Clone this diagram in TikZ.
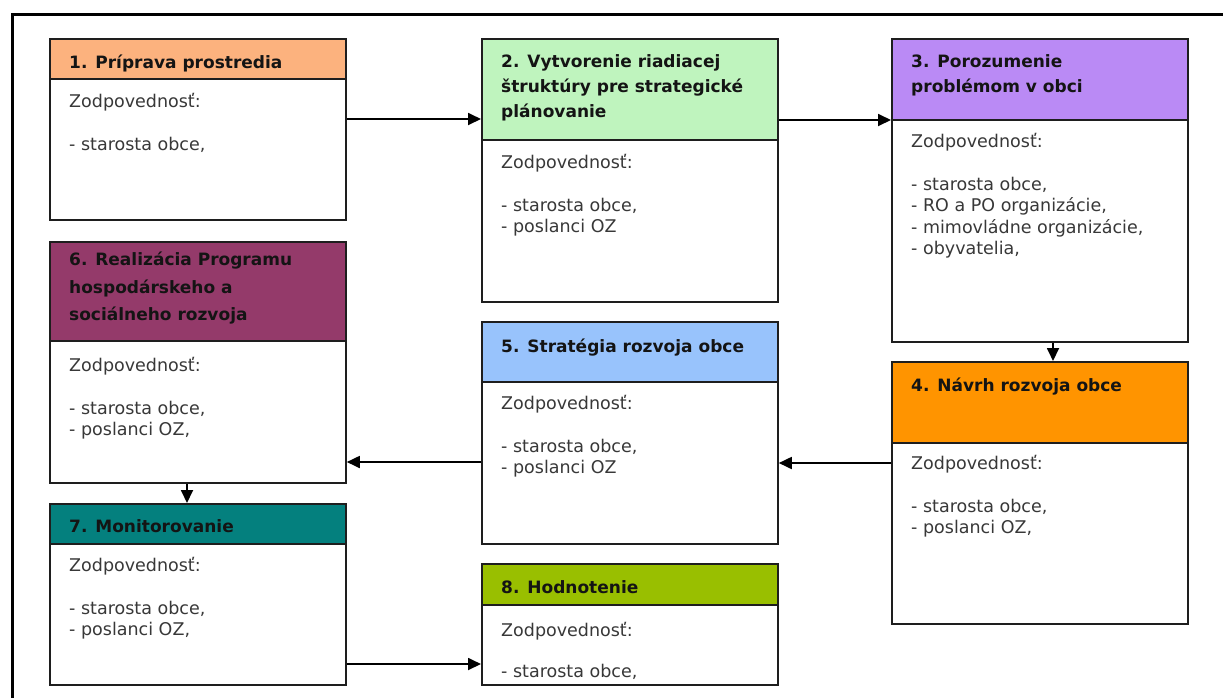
\documentclass[tikz,border=0pt]{standalone}
\usepackage{fontspec}
\setmainfont{DejaVu Sans}
\usetikzlibrary{arrows.meta}
\definecolor{c1}{RGB}{252,178,126}
\definecolor{c2}{RGB}{191,244,190}
\definecolor{c3}{RGB}{186,138,245}
\definecolor{c4}{RGB}{255,148,0}
\definecolor{c5}{RGB}{152,195,252}
\definecolor{c6}{RGB}{148,58,106}
\definecolor{c7}{RGB}{4,128,126}
\definecolor{c8}{RGB}{153,191,0}
\definecolor{bd}{RGB}{30,30,30}
\newcommand\myhfont{\fontsize{17}{25}\selectfont\bfseries}
\newcommand\myhfontb{\fontsize{17}{27.5}\selectfont\bfseries}
\newcommand\mybfont{\fontsize{17.5}{21.5}\selectfont}
\tikzset{
 box/.style={draw=bd, line width=1.8pt, fill=white, anchor=north west, inner sep=0pt, minimum width=296pt},
 hdr/.style={draw=bd, line width=1.8pt, anchor=north west, inner sep=0pt, minimum width=296pt},
 htxt/.style={anchor=north west, inner sep=0pt, align=left, text=black!92, font=\myhfont, execute at begin node={\rule{0pt}{15pt}}},
 btxt/.style={anchor=north west, inner sep=0pt, align=left, text=black!78, font=\mybfont, execute at begin node={\rule{0pt}{15pt}}},
 arr/.style={line width=1.8pt, draw=black, -{Triangle[length=13pt,width=12pt]}},
 frame/.style={line width=3pt, draw=black},
}
\begin{document}
\begin{tikzpicture}[x=1pt,y=-1pt]
\useasboundingbox (0,0) rectangle (1223,697);
\clip (0,0) rectangle (1223,697);
\fill[white] (0,0) rectangle (1223,697);
\draw[frame] (12,720) -- (12,14) -- (1240,14);

% box 1
\node[box, minimum height=181pt] (b1) at (49,38) {};
\node[hdr, fill=c1, minimum height=40pt] (h1) at (b1.north west) {};
\node[htxt] (t1) at ([shift={(20pt,-15pt)}]h1.north west) {1. Príprava prostredia};
\node[btxt] (r1) at ([shift={(20pt,-13pt)}]h1.south west) {Zodpovednosť:\\[21.5pt]- starosta obce,};

% box 2
\node[box, minimum height=263pt] (b2) at (481,38) {};
\node[hdr, fill=c2, minimum height=101pt] (h2) at (b2.north west) {};
\node[htxt] (t2) at ([shift={(20pt,-16pt)}]h2.north west) {2. Vytvorenie riadiacej\\štruktúry pre strategické\\plánovanie};
\node[btxt] (r2) at ([shift={(20pt,-13pt)}]h2.south west) {Zodpovednosť:\\[21.5pt]- starosta obce,\\- poslanci OZ};

% box 3
\node[box, minimum height=303pt] (b3) at (891,38) {};
\node[hdr, fill=c3, minimum height=81pt] (h3) at (b3.north west) {};
\node[htxt] (t3) at ([shift={(20pt,-16pt)}]h3.north west) {3. Porozumenie\\problémom v obci};
\node[btxt] (r3) at ([shift={(20pt,-12pt)}]h3.south west) {Zodpovednosť:\\[21.5pt]- starosta obce,\\- RO a PO organizácie,\\- mimovládne organizácie,\\- obyvatelia,};

% box 4
\node[box, minimum height=262pt] (b4) at (891,361) {};
\node[hdr, fill=c4, minimum height=81pt] (h4) at (b4.north west) {};
\node[htxt] (t4) at ([shift={(20pt,-15pt)}]h4.north west) {4. Návrh rozvoja obce};
\node[btxt] (r4) at ([shift={(20pt,-11pt)}]h4.south west) {Zodpovednosť:\\[21.5pt]- starosta obce,\\- poslanci OZ,};

% box 5
\node[box, minimum height=222pt] (b5) at (481,321) {};
\node[hdr, fill=c5, minimum height=60pt] (h5) at (b5.north west) {};
\node[htxt] (t5) at ([shift={(20pt,-16pt)}]h5.north west) {5. Stratégia rozvoja obce};
\node[btxt] (r5) at ([shift={(20pt,-12pt)}]h5.south west) {Zodpovednosť:\\[21.5pt]- starosta obce,\\- poslanci OZ};

% box 6
\node[box, minimum height=241pt] (b6) at (49,241) {};
\node[hdr, fill=c6, minimum height=99pt] (h6) at (b6.north west) {};
\node[htxt, font=\myhfontb] (t6) at ([shift={(20pt,-11pt)}]h6.north west) {6. Realizácia Programu\\hospodárskeho a\\sociálneho rozvoja};
\node[btxt] (r6) at ([shift={(20pt,-15pt)}]h6.south west) {Zodpovednosť:\\[21.5pt]- starosta obce,\\- poslanci OZ,};

% box 7
\node[box, minimum height=181pt] (b7) at (49,503) {};
\node[hdr, fill=c7, minimum height=40pt] (h7) at (b7.north west) {};
\node[htxt] (t7) at ([shift={(20pt,-14pt)}]h7.north west) {7. Monitorovanie};
\node[btxt] (r7) at ([shift={(20pt,-12pt)}]h7.south west) {Zodpovednosť:\\[21.5pt]- starosta obce,\\- poslanci OZ,};

% box 8
\node[box, minimum height=121pt] (b8) at (481,563) {};
\node[hdr, fill=c8, minimum height=41pt] (h8) at (b8.north west) {};
\node[htxt] (t8) at ([shift={(20pt,-15pt)}]h8.north west) {8. Hodnotenie};
\node[btxt] (r8) at ([shift={(20pt,-16pt)}]h8.south west) {Zodpovednosť:\\[20pt]- starosta obce,};

% connector levels
\coordinate (y12) at (0,119);
\coordinate (y23) at (0,120);
\coordinate (x34) at (1053,0);
\coordinate (y45) at (0,463);
\coordinate (y56) at (0,462);
\coordinate (x67) at (187,0);
\coordinate (y78) at (0,664);

\draw[arr] (b1.east |- y12) -- (b2.west |- y12);
\draw[arr] (b2.east |- y23) -- (b3.west |- y23);
\draw[arr] (b3.south -| x34) -- (b4.north -| x34);
\draw[arr] (b4.west |- y45) -- (b5.east |- y45);
\draw[arr] (b5.west |- y56) -- (b6.east |- y56);
\draw[arr] (b6.south -| x67) -- (b7.north -| x67);
\draw[arr] (b7.east |- y78) -- (b8.west |- y78);
\end{tikzpicture}
\end{document}
